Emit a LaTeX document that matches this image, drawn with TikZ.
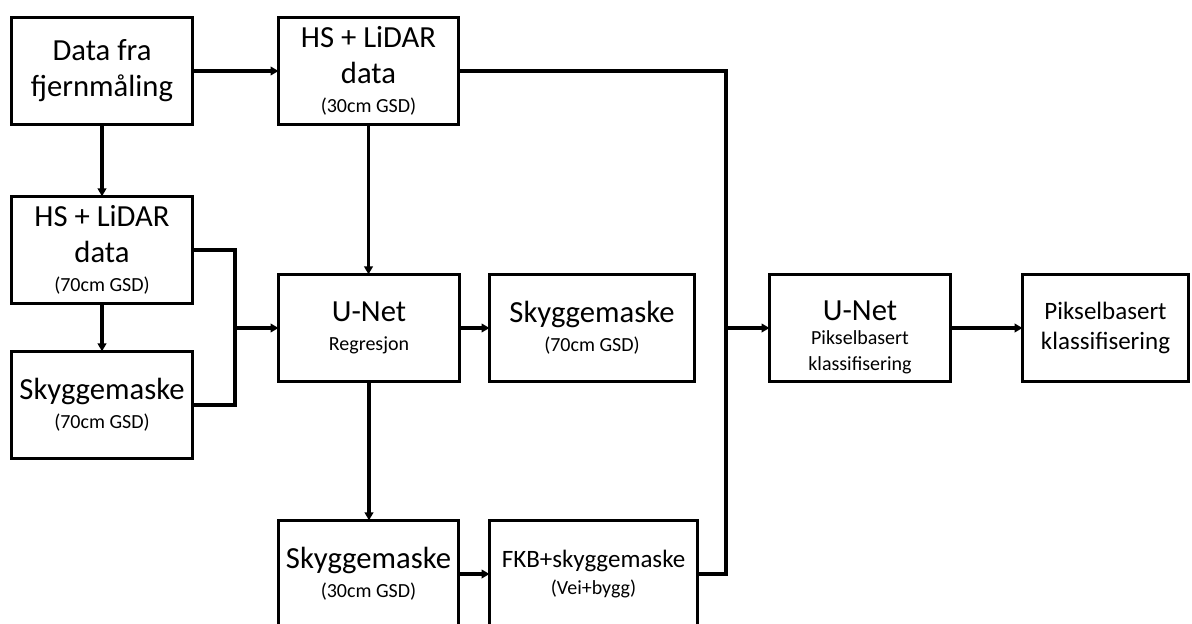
\documentclass[tikz,border=0pt]{standalone}
\usepackage{fontspec}
\setmainfont{Carlito}
\usetikzlibrary{arrows.meta}
\newcommand{\midtxt}{\fontsize{18.75}{23}\selectfont}
\newcommand{\smalltxt}{\fontsize{15}{17}\selectfont}
\begin{document}
\begin{tikzpicture}[x=0.75pt,y=-0.75pt,
  box/.style={draw, line width=2.4pt, rectangle, inner sep=0pt, outer sep=0pt,
    align=center, minimum height=80.5pt, minimum width=#1*0.75pt,
    font=\fontsize{23}{27}\selectfont},
  conn/.style={line width=2.5pt},
  arr/.style={conn, -{Triangle[length=6pt,width=6.5pt]}}]
\useasboundingbox (0,0) rectangle (1192,624);
\clip (0,0) rectangle (1192,624);

% boxes
\node[box=181] (src) at (102,71) {Data fra\\fjernmåling};
\node[box=180] (hs30) at (368.5,71) {HS + LiDAR\\data\\[-5pt]{\smalltxt (30cm GSD)}};
\node[box=181] (hs70) at (102,250) {HS + LiDAR\\data\\[-5pt]{\smalltxt (70cm GSD)}};
\node[box=181] (sm70a) at (102,405) {Skyggemaske\\[-5pt]{\smalltxt (70cm GSD)}};
\node[box=181] (unet) at (369,328) {U-Net\\[-5pt]{\smalltxt Regresjon}};
\node[box=205] (sm70b) at (592,328) {Skyggemaske\\[-5pt]{\smalltxt (70cm GSD)}};
\node[box=180] (sm30) at (368.5,574) {Skyggemaske\\[-5pt]{\smalltxt (30cm GSD)}};
\node[box=208, font=\midtxt] (fkb) at (593.5,574) {FKB+skyggemaske\\[-3pt]{\smalltxt (Vei+bygg)}};
% the strut lowers the three lines a little inside the box
\node[box=181] (unet2) at (860,328) {\rule{0pt}{29pt}U-Net\\[-9pt]{\smalltxt Pikselbasert}\\[-8pt]{\smalltxt klassifisering}};
\node[box=166, font=\midtxt] (res) at (1105.5,328) {Pikselbasert\\[-1pt]klassifisering};

% junction points
\coordinate (j1) at (235,328);
\coordinate (j2) at (726,328);

% connectors
\draw[arr] (src) -- (hs30);
\draw[arr] (src) -- (hs70);
\draw[arr] (hs70) -- (sm70a);
\draw[conn] (hs70.east) -| (j1);
\draw[conn] (sm70a.east) -| (j1);
\draw[arr] (j1) -- (unet.west);
\draw[arr] (hs30.south) -- (hs30.south |- unet.north);
\draw[arr] (unet) -- (sm70b);
\draw[arr] (unet.south) -- (unet.south |- sm30.north);
\draw[arr] (sm30) -- (fkb);
\draw[conn] (hs30.east) -| (j2);
\draw[conn] (fkb.east) -| (j2);
\draw[arr] (j2) -- (unet2.west);
\draw[arr] (unet2) -- (res);
\end{tikzpicture}
\end{document}
